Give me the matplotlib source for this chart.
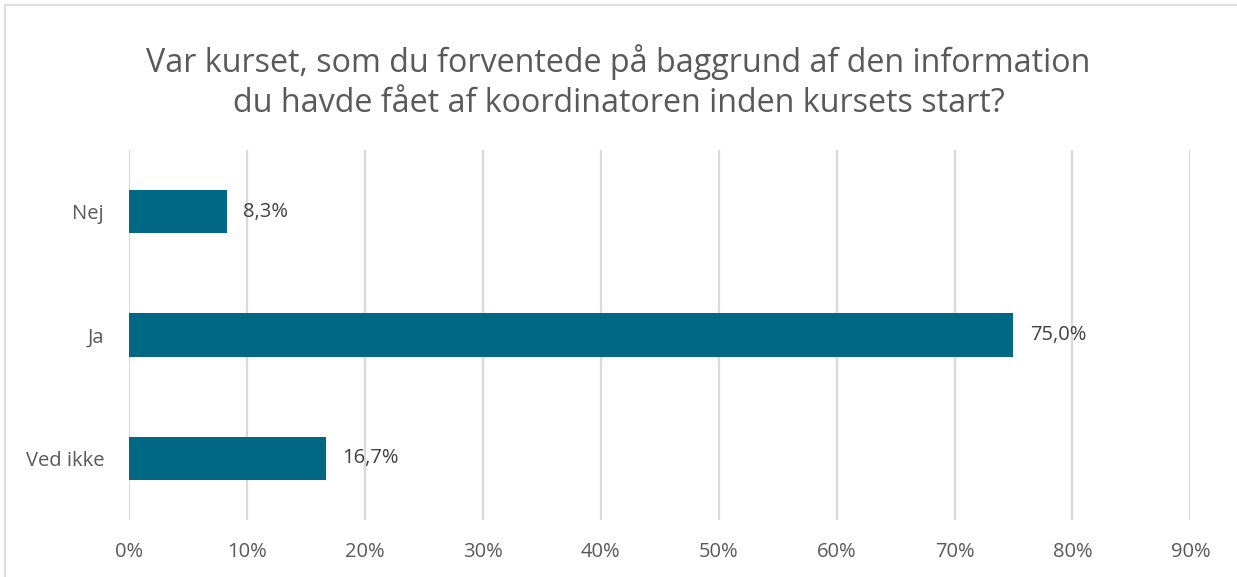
import matplotlib.pyplot as plt
from matplotlib.patches import Rectangle
from matplotlib.ticker import FuncFormatter

categories = ["Ved ikke", "Ja", "Nej"]
shares = [16.7, 75.0, 8.3]
title = ("Var kurset, som du forventede på baggrund af den information\n"
         "du havde fået af koordinatoren inden kursets start?")

plt.rcParams["font.family"] = ["Open Sans", "DejaVu Sans"]

fig = plt.figure(figsize=(12.37, 5.77), dpi=100)
ax = fig.add_axes([0.1043, 0.0984, 0.858, 0.642])

ypos = range(len(categories))
ax.barh(ypos, shares, height=0.35, color="#006785", zorder=3)
for y, v in zip(ypos, shares):
    ax.text(v + 1.4, y, f"{v:.1f}%".replace(".", ","), va="center", ha="left",
            fontsize=14.5, color="#404040")

ax.set_xlim(0, 90)
ax.set_ylim(-0.5, 2.5)
ax.set_xticks(range(0, 91, 10))
ax.xaxis.set_major_formatter(FuncFormatter(lambda x, _: f"{int(x)}%"))
ax.set_yticks(list(ypos))
ax.set_yticklabels(categories)
ax.tick_params(axis="both", length=0, labelsize=14.5, labelcolor="#595959")
ax.tick_params(axis="x", pad=16)
ax.tick_params(axis="y", pad=18)
ax.grid(axis="x", color="#d9d9d9", linewidth=1.6, zorder=0)
for s in ax.spines.values():
    s.set_visible(False)

fig.text(0.5, 0.858, title, ha="center", va="center", fontsize=23.2,
         color="#595959", linespacing=1.3)

# light outline round the chart area
fig.patches.append(Rectangle((5 / 1237, -0.01), 1.05, 1 - 5 / 577 + 0.01,
                             transform=fig.transFigure, fill=False,
                             edgecolor="#d9d9d9", linewidth=1.2))

fig.savefig("out.png", dpi=100)
